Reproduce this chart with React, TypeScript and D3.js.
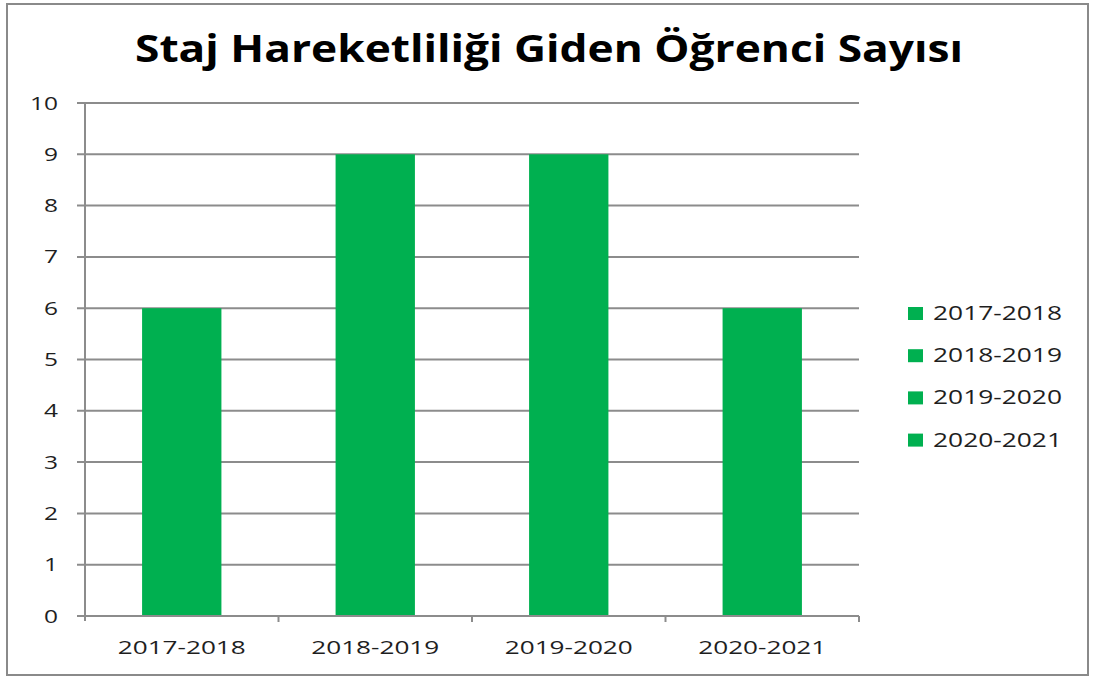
import React from "react";
import * as d3 from "d3";

const categories = ["2017-2018", "2018-2019", "2019-2020", "2020-2021"];
const values = [6, 9, 9, 6];
const yTicks = [0, 1, 2, 3, 4, 5, 6, 7, 8, 9, 10];
const title = "Staj Hareketliliği Giden Öğrenci Sayısı";

const W = 1093;
const H = 680;
const FONT = "'Open Sans', 'DejaVu Sans', sans-serif";
const GREEN = "#00B050";
const GRID = "#8c8c8c";
const TEXT = "#1e1e1e";

export default function App() {
  const x = d3.scaleBand<string>().domain(categories).range([85, 859]).paddingInner(0.59).paddingOuter(0.295);
  const xb = d3.scaleBand<string>().domain(categories).range([85, 859]);
  const y = d3.scaleLinear().domain([0, 10]).range([616, 103]);

  return (
    <div style={{ position: "fixed", left: 0, top: 0 }}>
      <svg width={W} height={H} style={{ display: "block", background: "#fff" }}>
        <rect x={7} y={4} width={1081} height={671} fill="#fff" stroke="#8a8a8a" strokeWidth={2} />
        <text
          x={549}
          y={62}
          textAnchor="middle"
          fontFamily={FONT}
          fontWeight="bold"
          fontSize={37}
          fill="#000"
          textLength={828}
          lengthAdjust="spacingAndGlyphs"
        >
          {title}
        </text>
        {yTicks.map((t) => (
          <g key={t}>
            <line x1={77} x2={859} y1={y(t)} y2={y(t)} stroke={GRID} strokeWidth={2} />
            <text
              x={58}
              y={y(t) + 6.5}
              textAnchor="end"
              fontFamily={FONT}
              fontSize={18}
              fill={TEXT}
              textLength={String(t).length === 2 ? 28 : 14}
              lengthAdjust="spacingAndGlyphs"
            >
              {t}
            </text>
          </g>
        ))}
        <line x1={85} x2={85} y1={y(10)} y2={y(0) + 5} stroke={GRID} strokeWidth={2} />
        {categories.map((c) => (
          <line key={"t" + c} x1={xb(c)! + xb.bandwidth()} x2={xb(c)! + xb.bandwidth()} y1={y(0)} y2={y(0) + 6} stroke={GRID} strokeWidth={2} />
        ))}
        {categories.map((c, i) => (
          <rect key={c} x={x(c)} y={y(values[i])} width={x.bandwidth()} height={y(0) - y(values[i]) - 1} fill={GREEN} />
        ))}
        {categories.map((c) => (
          <text
            key={"l" + c}
            x={xb(c)! + xb.bandwidth() / 2}
            y={654}
            textAnchor="middle"
            fontFamily={FONT}
            fontSize={19}
            fill={TEXT}
            textLength={128}
            lengthAdjust="spacingAndGlyphs"
          >
            {c}
          </text>
        ))}
        {categories.map((c, i) => (
          <g key={"lg" + c} transform={`translate(908, ${320 + i * 42.2})`}>
            <rect x={0} y={-13} width={15} height={13} fill={GREEN} />
            <text x={25} y={0} fontFamily={FONT} fontSize={20} fill={TEXT} textLength={129} lengthAdjust="spacingAndGlyphs">
              {c}
            </text>
          </g>
        ))}
      </svg>
    </div>
  );
}
